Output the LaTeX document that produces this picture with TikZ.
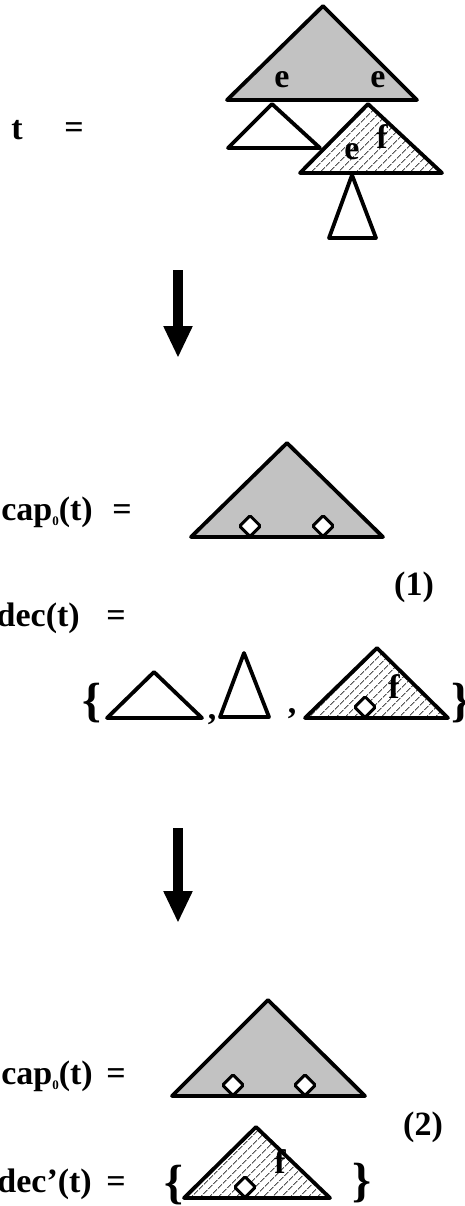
\documentclass[tikz,border=0pt]{standalone}
\usepackage{fontspec}
\setmainfont{Liberation Serif}
\usetikzlibrary{arrows.meta,patterns.meta,shapes.geometric}
\definecolor{capgray}{HTML}{C2C2C2}
\newcommand{\zerosub}{\raisebox{-5pt}{\fontsize{13}{13}\selectfont 0}}
\tikzset{
  lbl/.style={font=\bfseries\fontsize{34}{34}\selectfont, inner sep=0pt},
  bracelbl/.style={font=\bfseries\fontsize{48}{48}\selectfont, inner sep=0pt},
  outline/.style={draw=black, line width=3.8pt, line join=round},
  captri/.style={outline, fill=capgray},
  plaintri/.style={outline, fill=white},
  hatchtri/.style={
    outline,
    preaction={fill=white},
    pattern={Lines[angle=45,distance=6.4pt,line width=0.8pt]}
  },
  hole/.style={
    diamond, draw=black, line width=3pt, fill=white,
    minimum width=22pt, minimum height=22pt, inner sep=0pt,
    rounded corners=1.5pt
  },
  bigarrow/.style={line width=10pt, -{Triangle[length=32pt,width=27pt]}}
}
\begin{document}
\begin{tikzpicture}[x=1pt,y=-1pt]
  \useasboundingbox (0,0) rectangle (464,1206);

  % t = the whole tree
  \node[lbl, anchor=base] (tee) at (17,140) {t};
  \node[lbl, anchor=base] (eqtop) at (74,139) {=};
  \draw[captri] (227,100) -- (323,6) -- (417,100) -- cycle;
  \draw[plaintri] (228,148) -- (272,104) -- (320,148) -- cycle;
  \draw[hatchtri] (300,173) -- (368,104) -- (442,173) -- cycle;
  \draw[plaintri] (329,238) -- (352,175) -- (376,238) -- cycle;
  \node[lbl] (etopa) at (282,80) {e};
  \node[lbl] (etopb) at (378,80) {e};
  \node[lbl] (ehatch) at (352,152) {e};
  \node[lbl] (fhatch) at (382,137) {f};

  \coordinate (downafrom) at (178,270);
  \coordinate (downato) at (178,358);
  \draw[bigarrow] (downafrom) -- (downato);

  % step (1)
  \node[lbl, anchor=base east] (capone) at (93,520) {cap\zerosub(t)};
  \node[lbl, anchor=base] (eqone) at (122,520) {=};
  \draw[captri] (191,537) -- (287,443) -- (383,537) -- cycle;
  \node[hole] (holeoa) at (250,526) {};
  \node[hole] (holeob) at (323,526) {};
  \node[lbl, anchor=base] (stepone) at (414,595) {(1)};

  \node[lbl, anchor=base east] (decone) at (80,626) {dec(t)};
  \node[lbl, anchor=base] (eqdec) at (116,626) {=};
  \node[bracelbl] (lbrone) at (92,703) {\{};
  \draw[plaintri] (107,718) -- (154,672) -- (202,718) -- cycle;
  \node[lbl, anchor=base] (commaa) at (212,719) {,};
  \draw[plaintri] (220,717) -- (244,653) -- (269,717) -- cycle;
  \node[lbl, anchor=base] (commab) at (292,713) {,};
  \draw[hatchtri] (305,718) -- (377,648) -- (448,718) -- cycle;
  \node[hole] (holeset) at (365,707) {};
  \node[lbl] (fset) at (394,687) {f};
  \node[bracelbl, anchor=west] (rbrone) at (451,703) {\}};

  \coordinate (downbfrom) at (178,828);
  \coordinate (downbto) at (178,923);
  \draw[bigarrow] (downbfrom) -- (downbto);

  % step (2)
  \node[lbl, anchor=base east] (captwo) at (93,1084) {cap\zerosub(t)};
  \node[lbl, anchor=base] (eqtwo) at (116,1084) {=};
  \draw[captri] (172,1096) -- (268,1000) -- (365,1096) -- cycle;
  \node[hole] (holeta) at (233,1085) {};
  \node[hole] (holetb) at (305,1085) {};
  \node[lbl, anchor=base] (steptwo) at (423,1135) {(2)};

  \node[lbl, anchor=base east] (dectwo) at (92,1192) {dec’(t)};
  \node[lbl, anchor=base] (eqdectwo) at (116,1192) {=};
  \node[bracelbl] (lbrtwo) at (174,1185) {\{};
  \draw[hatchtri] (184,1198) -- (256,1127) -- (330,1198) -- cycle;
  \node[hole] (holelast) at (245,1187) {};
  \node[lbl] (flast) at (280,1162) {f};
  \node[bracelbl] (rbrtwo) at (362,1183) {\}};
\end{tikzpicture}
\end{document}
